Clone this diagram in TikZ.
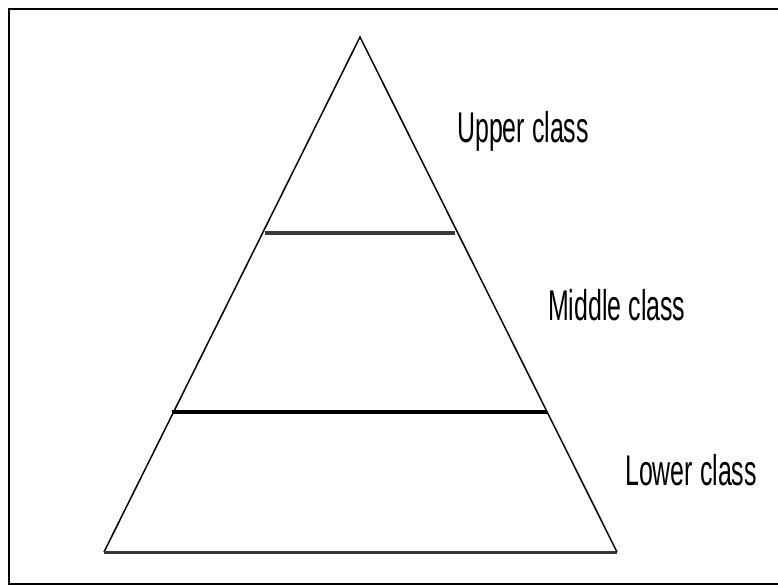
\documentclass[tikz,border=0pt]{standalone}
\usepackage{fontspec}
\usepackage{graphicx}
\setmainfont{Liberation Sans}
\tikzset{
  side/.style={line width=1.5pt, black},
  band/.style={line width=4pt},
  lbl/.style={anchor=base west, inner sep=0pt, font=\fontsize{43}{43}\selectfont},
  frameline/.style={line width=2.5pt, black}
}
\newcommand{\narrowtxt}[1]{\scalebox{0.58}[1]{#1}}
\begin{document}
\begin{tikzpicture}[x=1pt,y=-1pt]
  \useasboundingbox (0,0) rectangle (778,585);
  \fill[white] (0,0) rectangle (778,585);
  % frame
  \draw[frameline] (779,9) -- (9,9) -- (9,584) -- (779,584);
  % triangle
  \coordinate (apex) at (360,37);
  \coordinate (bl) at (104,552);
  \coordinate (br) at (617,552);
  \coordinate (u1) at (265,233);
  \coordinate (u2) at (455,233);
  \coordinate (m1) at (172,412);
  \coordinate (m2) at (547,412);
  \draw[side] (bl) -- (apex) -- (br);
  \draw[band, black!78] (u1) -- (u2);
  \draw[band, black] (m1) -- (m2);
  \draw[line width=3pt, black!78] (bl) -- (br);
  % labels
  \node[lbl] (upper) at (457,143) {\narrowtxt{Upper class}};
  \node[lbl] (middle) at (548,320) {\narrowtxt{Middle class}};
  \node[lbl] (lower) at (625,485) {\narrowtxt{Lower class}};
\end{tikzpicture}
\end{document}
